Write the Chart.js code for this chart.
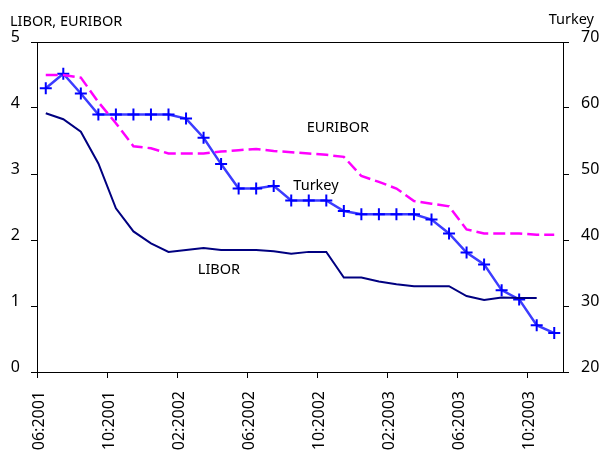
<!DOCTYPE html>
<html>
<head>
<meta charset="utf-8">
<script src="https://cdn.jsdelivr.net/npm/chart.js@4"></script>
<style>
  body { margin: 0; background: #fff; }
  canvas { display: block; }
</style>
</head>
<body>
<canvas id="ratesChart" width="600" height="457"></canvas>
<script>
// monthly observations, 06:2001 - 11:2003
const months = [
    '06:2001', '07:2001', '08:2001', '09:2001', '10:2001', '11:2001', '12:2001',
    '01:2002', '02:2002', '03:2002', '04:2002', '05:2002', '06:2002', '07:2002',
    '08:2002', '09:2002', '10:2002', '11:2002', '12:2002',
    '01:2003', '02:2003', '03:2003', '04:2003', '05:2003', '06:2003', '07:2003',
    '08:2003', '09:2003', '10:2003', '11:2003'
];
const libor = [3.92, 3.83, 3.64, 3.16, 2.48, 2.13, 1.95, 1.82, 1.85, 1.88,
    1.85, 1.85, 1.85, 1.83, 1.79, 1.82, 1.82, 1.43, 1.43, 1.37,
    1.33, 1.30, 1.30, 1.30, 1.15, 1.09, 1.13, 1.12, 1.12, null];
const euribor = [4.50, 4.50, 4.46, 4.09, 3.77, 3.42, 3.39, 3.31, 3.31, 3.31,
    3.34, 3.36, 3.38, 3.35, 3.33, 3.31, 3.29, 3.26, 2.97, 2.88,
    2.78, 2.59, 2.55, 2.51, 2.16, 2.10, 2.10, 2.10, 2.08, 2.08];
const turkey = [63.0, 65.2, 62.2, 59.0, 59.0, 59.0, 59.0, 59.0, 58.4, 55.5,
    51.5, 47.8, 47.8, 48.2, 46.0, 46.0, 46.0, 44.4, 43.9, 43.9,
    43.9, 43.9, 43.1, 41.0, 38.1, 36.3, 32.4, 31.0, 27.1, 25.9];

const leftTicks = [0, 1, 2, 3, 4, 5];
const rightTicks = [20, 30, 40, 50, 60, 70];

const FONT = '"Noto Sans", "DejaVu Sans", sans-serif';

// each month sits in the middle of its slot on the time axis
function toPoints(values) {
    return values.map((v, i) => ({ x: i + 0.5, y: v }));
}

// frame around the plot area plus axis captions and series names
const decorations = {
    id: 'decorations',
    afterDatasetsDraw(chart) {
        const { ctx, chartArea: a, scales } = chart;
        ctx.save();
        ctx.strokeStyle = '#000';
        ctx.lineWidth = 1;
        ctx.strokeRect(Math.round(a.left) + 0.5, Math.round(a.top) + 0.5,
            Math.round(a.right - a.left), Math.round(a.bottom - a.top));

        ctx.fillStyle = '#000';
        ctx.font = '14.5px ' + FONT;
        ctx.textBaseline = 'alphabetic';
        ctx.textAlign = 'left';
        ctx.fillText('LIBOR, EURIBOR', 10, 25.5);
        ctx.textAlign = 'right';
        ctx.fillText('Turkey', 594, 23.5);

        ctx.textAlign = 'left';
        const x = scales.x, yl = scales.yLeft, yr = scales.yRight;
        ctx.fillText('EURIBOR', x.getPixelForValue(15.38), yl.getPixelForValue(3.64));
        ctx.fillText('Turkey', x.getPixelForValue(14.62), yr.getPixelForValue(47.56));
        ctx.fillText('LIBOR', x.getPixelForValue(9.17), yl.getPixelForValue(1.48));
        ctx.restore();
    }
};

const tickFont = { family: FONT, size: 16 };

new Chart(document.getElementById('ratesChart').getContext('2d'), {
    type: 'line',
    data: {
        datasets: [
            {
                label: 'LIBOR',
                data: toPoints(libor),
                yAxisID: 'yLeft',
                borderColor: '#000080',
                borderWidth: 2,
                pointRadius: 0,
                tension: 0
            },
            {
                label: 'EURIBOR',
                data: toPoints(euribor),
                yAxisID: 'yLeft',
                borderColor: '#ff00ff',
                borderWidth: 2.5,
                borderDash: [12, 5],
                pointRadius: 0,
                tension: 0
            },
            {
                label: 'Turkey',
                data: toPoints(turkey),
                yAxisID: 'yRight',
                borderColor: 'rgb(60, 60, 255)',
                borderWidth: 2.5,
                pointStyle: 'cross',
                pointRadius: 6,
                pointBorderWidth: 2,
                pointBorderColor: '#0000ff',
                pointBackgroundColor: '#0000ff',
                tension: 0
            }
        ]
    },
    options: {
        responsive: false,
        animation: false,
        devicePixelRatio: 1,
        layout: { padding: { top: 42 } },
        plugins: {
            legend: { display: false },
            tooltip: { enabled: false }
        },
        scales: {
            x: {
                type: 'linear',
                min: 0,
                max: months.length,
                afterBuildTicks(axis) {
                    axis.ticks = months.map((m, i) => ({ value: i })).filter(t => t.value % 4 === 0);
                },
                afterFit(axis) { axis.height = 85; },
                grid: { drawOnChartArea: false, color: '#000', tickLength: 6 },
                border: { display: false },
                ticks: {
                    font: tickFont,
                    color: '#000',
                    padding: 13,
                    minRotation: 90,
                    maxRotation: 90,
                    labelOffset: 2,
                    callback: v => months[v]
                }
            },
            yLeft: {
                position: 'left',
                min: 0,
                max: 5,
                afterBuildTicks(axis) { axis.ticks = leftTicks.map(v => ({ value: v })); },
                afterFit(axis) { axis.width = 37; },
                grid: { drawOnChartArea: false, color: '#000', tickLength: 6 },
                border: { display: false },
                ticks: { font: tickFont, color: '#000', padding: 11, labelOffset: -5 }
            },
            yRight: {
                position: 'right',
                min: 20,
                max: 70,
                afterBuildTicks(axis) { axis.ticks = rightTicks.map(v => ({ value: v })); },
                afterFit(axis) { axis.width = 37; },
                grid: { drawOnChartArea: false, color: '#000', tickLength: 6 },
                border: { display: false },
                ticks: { font: tickFont, color: '#000', padding: 12, labelOffset: -5 }
            }
        }
    },
    plugins: [decorations]
});
</script>
</body>
</html>
